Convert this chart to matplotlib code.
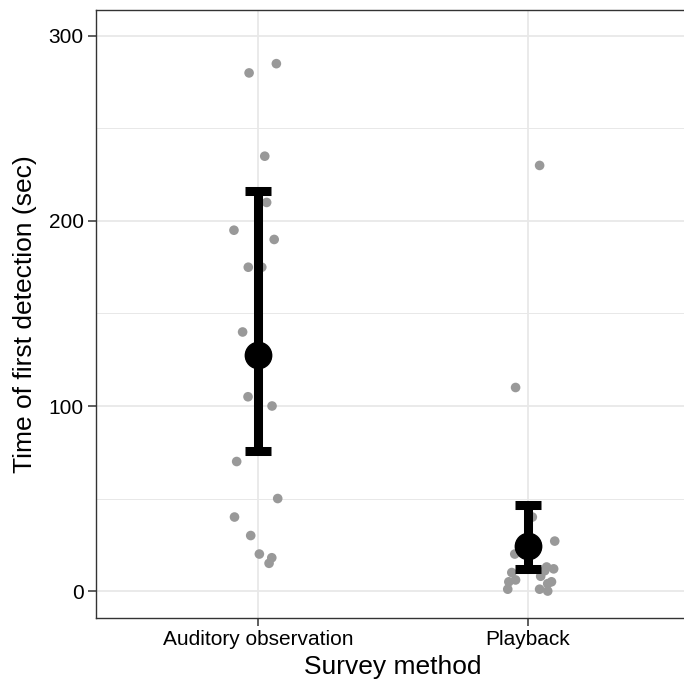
import numpy as np
import matplotlib
matplotlib.use("Agg")
import matplotlib.pyplot as plt
from matplotlib.ticker import MultipleLocator

plt.rcParams['font.family'] = ['Liberation Sans', 'DejaVu Sans']

# survey methods on the x axis
methods = ["Auditory observation", "Playback"]

# raw detection times (sec) and their horizontal jitter
auditory_times = [280, 285, 235, 210, 195, 190, 175, 175, 140, 105, 100, 70, 50, 40, 30, 20, 18, 15]
auditory_jitter = [-0.033, 0.068, 0.025, 0.032, -0.089, 0.060, -0.036, 0.014, -0.057,
                   -0.037, 0.052, -0.079, 0.073, -0.087, -0.027, 0.005, 0.051, 0.041]
playback_times = [230, 110, 40, 27, 20, 13, 12, 11, 10, 8, 6, 5, 5, 4, 1, 1, 0]
playback_jitter = [0.043, -0.046, 0.016, 0.099, -0.049, 0.069, 0.095, 0.062, -0.060,
                   0.047, -0.046, -0.071, 0.087, 0.073, -0.075, 0.043, 0.073]

# group means and interval limits
means = [127.6, 24.3]
ci_low = [75.7, 12.0]
ci_high = [216.2, 46.5]

fig = plt.figure(figsize=(6.84, 6.92), dpi=100)
ax = fig.add_axes([96 / 684, 1 - 617.7 / 692, 594 / 684, 607.7 / 692])

grid_col = "#E8E8E8"
ax.set_axisbelow(True)
ax.yaxis.set_major_locator(MultipleLocator(100))
ax.yaxis.set_minor_locator(MultipleLocator(50))
ax.grid(True, which="major", color=grid_col, lw=1.3)
ax.grid(True, which="minor", axis="y", color=grid_col, lw=0.7)

for i, (times, jit) in enumerate([(auditory_times, auditory_jitter),
                                  (playback_times, playback_jitter)]):
    x = i + 1 + np.array(jit)
    ax.scatter(x, times, s=48, color="#999999", edgecolors="none", zorder=2)

pos = np.arange(1, len(methods) + 1)
m = np.array(means)
yerr = [m - np.array(ci_low), np.array(ci_high) - m]
ax.errorbar(pos, m, yerr=yerr, fmt="o", color="black", markersize=19,
            elinewidth=6.5, capsize=9.7, capthick=6.5, zorder=3)

ax.set_xlim(0.4, 2.6)
ax.set_ylim(-14.4, 314)
ax.set_xticks(pos)
ax.set_xticklabels(methods)

for s in ax.spines.values():
    s.set_color("#333333")
    s.set_linewidth(1.0)
ax.tick_params(which="major", length=5.5, width=1.1, color="#333333",
               labelsize=15, labelcolor="black", pad=3.5)
ax.tick_params(which="minor", length=0)

ax.set_xlabel("Survey method", fontsize=19, labelpad=4)
ax.set_ylabel("Time of first detection (sec)", fontsize=19, labelpad=8)

fig.savefig("out.png", dpi=100)
